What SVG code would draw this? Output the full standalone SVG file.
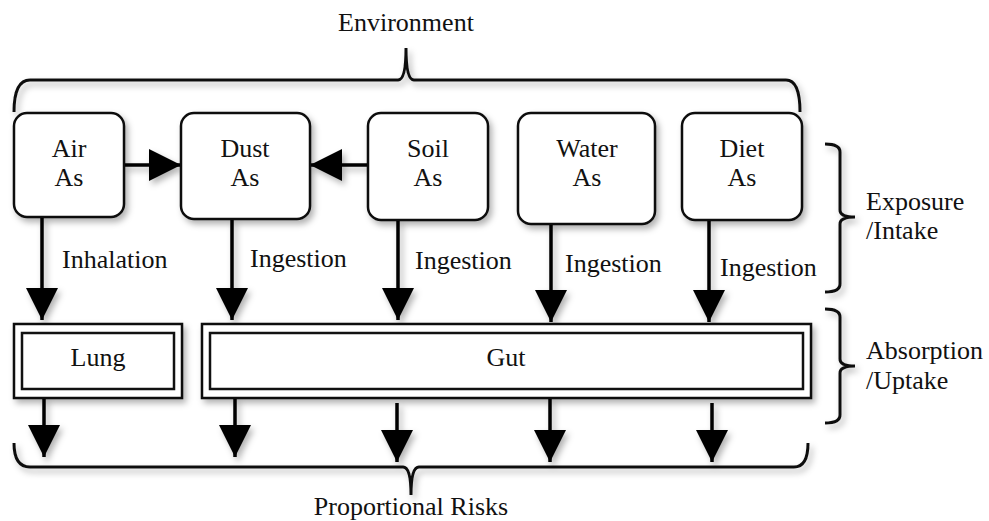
<svg xmlns="http://www.w3.org/2000/svg" width="989" height="521" viewBox="0 0 989 521">
<defs>
<filter id="sh" x="-20%" y="-20%" width="140%" height="160%">
<feDropShadow dx="3" dy="4" stdDeviation="3" flood-color="#000" flood-opacity="0.3"/>
</filter>
<marker id="ah" markerUnits="userSpaceOnUse" markerWidth="32" markerHeight="32" viewBox="0 0 30 30" refX="30" refY="15" orient="auto">
<path d="M0,0 L30,15 L0,30 Z" fill="#000"/>
</marker>
<style>
text{font-family:"Liberation Serif","Times New Roman",serif;font-size:26px;fill:#111}
.c{text-anchor:middle}
.box{fill:#fff;stroke:#111;stroke-width:2.5}
.br{fill:none;stroke:#111;stroke-width:3}
.ln{fill:none;stroke:#000;stroke-width:3.5}
</style>
</defs>
<rect width="989" height="521" fill="#fff"/>

<g id="braces" filter="url(#sh)">
<path class="br" d="M14,112 Q14,80 30,80 L398,80 Q406,80 406,48 Q406,80 414,80 L786,80 Q800,80 800,112"/>
<path class="br" d="M14,443 Q14,467 30,467 L403,467 Q411,467 411,495 Q411,467 419,467 L794,467 Q808,467 808,443"/>
<path class="br" d="M825,144 Q840,144 840,152 L840,210 Q840,217 855,217 Q840,217 840,224 L840,284 Q840,292 825,292"/>
<path class="br" d="M825,309 Q840,309 840,317 L840,359 Q840,366 855,366 Q840,366 840,373 L840,415 Q840,423 825,423"/>
</g>
<text class="c" x="406" y="31">Environment</text>
<text class="c" x="411" y="515">Proportional Risks</text>
<text x="866" y="210">Exposure</text>
<text x="866" y="239">/Intake</text>
<text x="866" y="359">Absorption</text>
<text x="866" y="389">/Uptake</text>

<g id="connectors" filter="url(#sh)">
<line class="ln" x1="124" y1="165" x2="181" y2="165" marker-end="url(#ah)"/>
<line class="ln" x1="368" y1="165" x2="310" y2="165" marker-end="url(#ah)"/>
<line class="ln" x1="42" y1="217" x2="42" y2="320" marker-end="url(#ah)"/>
<line class="ln" x1="232" y1="220" x2="232" y2="320" marker-end="url(#ah)"/>
<line class="ln" x1="398" y1="220" x2="398" y2="320" marker-end="url(#ah)"/>
<line class="ln" x1="551" y1="224" x2="551" y2="322" marker-end="url(#ah)"/>
<line class="ln" x1="709" y1="220" x2="709" y2="322" marker-end="url(#ah)"/>
<line class="ln" x1="44" y1="398" x2="44" y2="457" marker-end="url(#ah)"/>
<line class="ln" x1="235" y1="398" x2="235" y2="457" marker-end="url(#ah)"/>
<line class="ln" x1="397" y1="403" x2="397" y2="462" marker-end="url(#ah)"/>
<line class="ln" x1="550" y1="398" x2="550" y2="462" marker-end="url(#ah)"/>
<line class="ln" x1="712" y1="403" x2="712" y2="462" marker-end="url(#ah)"/>
</g>
<text x="62" y="268">Inhalation</text>
<text x="250" y="267">Ingestion</text>
<text x="415" y="269">Ingestion</text>
<text x="565" y="272">Ingestion</text>
<text x="720" y="276">Ingestion</text>

<g id="air">
<rect class="box" filter="url(#sh)" x="14" y="113" width="110" height="104" rx="13"/>
<text class="c" x="69" y="157">Air</text><text class="c" x="69" y="186">As</text>
</g>
<g id="dust">
<rect class="box" filter="url(#sh)" x="181" y="113" width="129" height="106" rx="13"/>
<text class="c" x="245" y="157">Dust</text><text class="c" x="245" y="186">As</text>
</g>
<g id="soil">
<rect class="box" filter="url(#sh)" x="368" y="113" width="120" height="107" rx="13"/>
<text class="c" x="428" y="157">Soil</text><text class="c" x="428" y="186">As</text>
</g>
<g id="water">
<rect class="box" filter="url(#sh)" x="518" y="113" width="137" height="111" rx="13"/>
<text class="c" x="587" y="157">Water</text><text class="c" x="587" y="186">As</text>
</g>
<g id="diet">
<rect class="box" filter="url(#sh)" x="682" y="113" width="120" height="107" rx="13"/>
<text class="c" x="742" y="157">Diet</text><text class="c" x="742" y="186">As</text>
</g>
<g id="lung">
<rect class="box" filter="url(#sh)" x="14" y="324" width="168" height="74"/>
<rect class="box" x="22" y="333" width="152" height="56"/>
<text class="c" x="98" y="366">Lung</text>
</g>
<g id="gut">
<rect class="box" filter="url(#sh)" x="202" y="324" width="609" height="74"/>
<rect class="box" x="210" y="333" width="593" height="56"/>
<text class="c" x="506" y="366">Gut</text>
</g>
</svg>
